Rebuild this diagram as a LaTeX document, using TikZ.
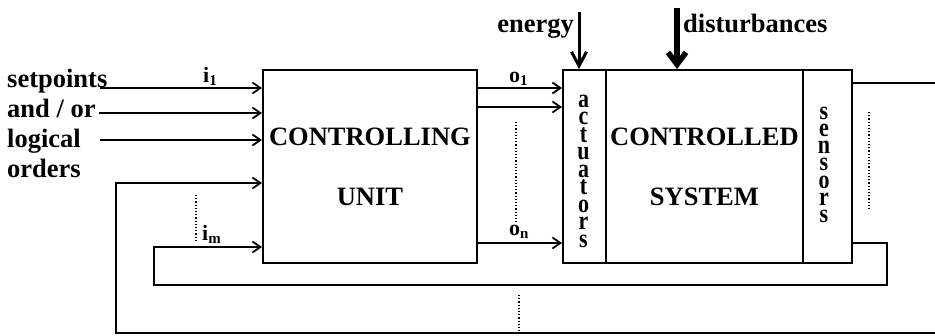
\documentclass[tikz,border=0pt]{standalone}
\usepackage{fontspec}
\setmainfont{Liberation Serif}
\usetikzlibrary{arrows.meta}
\begin{document}
\begin{tikzpicture}[x=1pt,y=-1pt,
  box/.style={draw, line width=1.8pt, inner sep=0pt, anchor=north west, minimum height=193pt},
  bigtxt/.style={font=\fontsize{26.5}{60}\selectfont\bfseries, align=center, inner sep=0pt},
  vl/.style={font=\fontsize{22}{22}\selectfont\bfseries, inner sep=0pt, anchor=base},
  lbl/.style={font=\fontsize{26.5}{30}\selectfont\bfseries, inner sep=0pt},
  slbl/.style={font=\fontsize{22}{22}\selectfont\bfseries, inner sep=0pt, anchor=base west},
  sig/.style={line width=1.8pt, -{Straight Barb[length=8pt,width=11pt]}},
  wire/.style={line width=1.8pt},
  dots/.style={dotted, line width=1.2pt}]
\useasboundingbox (0,0) rectangle (935,335);

% boxes
\node[box, minimum width=214pt] (cu) at (262,69) {};
\node[bigtxt] (cutxt) at (cu.center) {CONTROLLING\\UNIT};
\node[box, minimum width=43pt] (act) at (562,69) {};
\node[box, minimum width=197pt] (sys) at (605,69) {};
\node[box, minimum width=49pt] (sen) at (802,69) {};
\node[bigtxt] (systxt) at (sys.center) {CONTROLLED\\SYSTEM};
\foreach \l [count=\k] in {a,c,t,u,a,t,o,r,s}
  \node[vl] (act\k) at (583.5,{107+(\k-1)*17.5}) {\scalebox{1}[1.2]{\l}};
\foreach \l [count=\k] in {s,e,n,s,o,r,s}
  \node[vl] (sen\k) at (824,{119+(\k-1)*17.33}) {\scalebox{1}[1.2]{\l}};

% left labels
\node[lbl, anchor=base west] (sp) at (7,87) {setpoints};
\node[lbl, anchor=base west] (ao) at (7,117) {and / or};
\node[lbl, anchor=base west] (lg) at (7,147) {logical};
\node[lbl, anchor=base west] (od) at (7,177) {orders};

% top labels
\node[lbl, anchor=base east] (energy) at (574,32) {energy};
\node[lbl, anchor=base west] (dist) at (683,32) {disturbances};

% signal labels
\node[slbl] (li1) at (203,82) {i\raisebox{-3pt}{\fontsize{15}{15}\selectfont 1}};
\node[slbl] (lim) at (202,240) {i\raisebox{-3pt}{\fontsize{15}{15}\selectfont m}};
\node[slbl] (lo1) at (509,82) {o\raisebox{-3pt}{\fontsize{15}{15}\selectfont 1}};
\node[slbl] (lon) at (509,235) {o\raisebox{-3pt}{\fontsize{15}{15}\selectfont n}};

% free ends
\coordinate (in1) at (100,88);
\coordinate (in2) at (99,113);
\coordinate (in3) at (100,140);
\coordinate (en) at (579,12);
\coordinate (di) at (677,8);
\coordinate (edgeTop) at (936,83);
\coordinate (edgeBot) at (936,333);

% inputs
\draw[sig] (in1) -- (in1 -| cu.west);
\draw[sig] (in2) -- (in2 -| cu.west);
\draw[sig] (in3) -- (in3 -| cu.west);

% outputs
\draw[sig] (cu.east |- 0,88) -- (act.west |- 0,88);
\draw[sig] (cu.east |- 0,107) -- (act.west |- 0,107);
\draw[sig] (cu.east |- 0,243) -- (act.west |- 0,243);

% energy and disturbances
\draw[line width=3pt, -{Straight Barb[length=14pt,width=15pt]}] (en) -- (en |- act.north);
\draw[line width=5.5pt, -{Straight Barb[length=12pt,width=18pt]}] (di) -- (di |- sys.north);

% feedback loops
\draw[wire] (sen.east |- edgeTop) -- (edgeTop);
\draw[sig] (edgeBot) -- (116,333) -- (116,183) -- (cu.west |- 0,183);
\draw[sig] (sen.east |- 0,243) -- (887,243) -- (887,285) -- (154,285) -- (154,247) -- (cu.west |- 0,247);

% dotted
\draw[dots] (196,195) -- (196,242);
\draw[dots] (516,122) -- (516,222);
\draw[dots] (869,112) -- (869,210);
\draw[dots] (519,295) -- (519,333);
\end{tikzpicture}
\end{document}
